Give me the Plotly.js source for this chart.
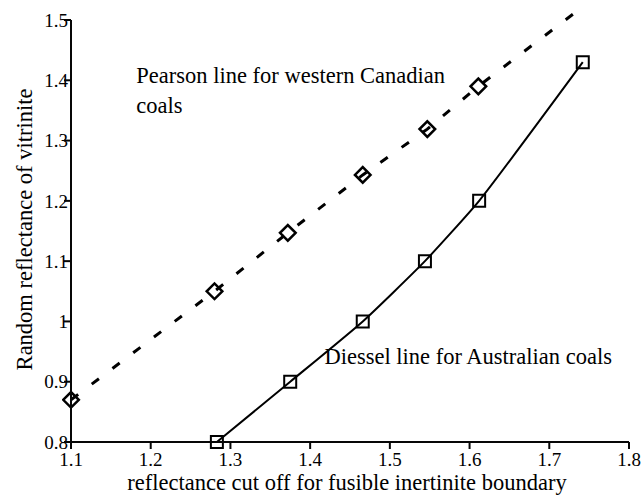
<!DOCTYPE html>
<html>
<head>
<meta charset="utf-8">
<script src="https://cdn.plot.ly/plotly-3.0.1.min.js"></script>
<style>html,body{margin:0;padding:0;background:#fff;}#chart{width:641px;height:504px;}</style>
</head>
<body>
<div id="chart"></div>
<script>
// Pearson line for western Canadian coals (marked points)
var pearsonX = [1.10, 1.280, 1.372, 1.466, 1.547, 1.611];
var pearsonY = [0.87, 1.050, 1.147, 1.243, 1.319, 1.390];
// where the dashed Pearson line ends (no marker)
var pearsonEndX = [1.735];
var pearsonEndY = [1.515];

// Diessel line for Australian coals
var diesselX = [1.283, 1.375, 1.466, 1.544, 1.612, 1.742];
var diesselY = [0.80, 0.90, 1.00, 1.10, 1.20, 1.43];

var xTicks = [1.1, 1.2, 1.3, 1.4, 1.5, 1.6, 1.7, 1.8];
var yTicks = [0.8, 0.9, 1.0, 1.1, 1.2, 1.3, 1.4, 1.5];

var xTitle = 'reflectance cut off for fusible inertinite boundary';
var yTitle = 'Random reflectance of vitrinite';
var pearsonLabel = 'Pearson line for western Canadian<br>coals';
var diesselLabel = 'Diessel line for Australian coals';
var pearsonLabelPos = [1.182, 1.380];
var diesselLabelPos = [1.418, 0.939];

var FONT = '"Liberation Serif", "Times New Roman", serif';
var INK = 'rgb(6,6,6)';

var W = 641, H = 504;
var xMin = 1.1, xMax = 1.8, yMin = 0.8, yMax = 1.5;
var sx = (629 - 71) / (xMax - xMin);   // px per unit
var sy = (442 - 20) / (yMax - yMin);
var mL = 62, mR = 9, mT = 8, mB = 53;  // plot area a little larger than the axes
var xRange = [xMin - (71 - mL) / sx, xMax + (W - mR - 629) / sx];
var yRange = [yMin - (H - mB - 442) / sy, yMax + (20 - mT) / sy];

var traces = [
  {
    x: diesselX, y: diesselY, mode: 'lines+markers', type: 'scatter',
    line: {color: '#000', width: 2, shape: 'spline', smoothing: 0.5},
    marker: {symbol: 'square-open', size: 12, color: '#000', line: {width: 2}},
    showlegend: false, name: 'Diessel'
  },
  {
    x: pearsonX.concat(pearsonEndX), y: pearsonY.concat(pearsonEndY), mode: 'lines', type: 'scatter',
    line: {color: '#000', width: 3, dash: '9px,17px'},
    showlegend: false, hoverinfo: 'skip'
  },
  {
    x: pearsonX, y: pearsonY, mode: 'markers', type: 'scatter',
    marker: {symbol: 'diamond-open', size: 12, color: '#000', line: {width: 2.5}},
    showlegend: false, name: 'Pearson'
  },
  {
    x: [pearsonLabelPos[0]], y: [pearsonLabelPos[1]], mode: 'text', type: 'scatter',
    text: [pearsonLabel], textposition: 'middle right',
    textfont: {family: FONT, size: 22.5, color: '#000'}, showlegend: false, hoverinfo: 'skip'
  },
  {
    x: [diesselLabelPos[0]], y: [diesselLabelPos[1]], mode: 'text', type: 'scatter',
    text: [diesselLabel], textposition: 'middle right',
    textfont: {family: FONT, size: 22.5, color: '#000'}, showlegend: false, hoverinfo: 'skip'
  }
];

// axis lines and tick marks, placed through the axes' own scales
var shapes = [
  {type: 'line', xref: 'x', yref: 'y', x0: xMin - 1 / sx, x1: xMax, y0: yMin, y1: yMin, line: {color: INK, width: 2}},
  {type: 'line', xref: 'x', yref: 'y', x0: xMin, x1: xMin, y0: yMin - 1 / sy, y1: yMax, line: {color: INK, width: 2}}
];
xTicks.forEach(function(v){
  shapes.push({type: 'line', xref: 'x', yref: 'y', x0: v, x1: v,
    ysizemode: 'pixel', yanchor: yMin, y0: 0, y1: -7, line: {color: INK, width: 2}});
});
yTicks.forEach(function(v){
  shapes.push({type: 'line', xref: 'x', yref: 'y', y0: v, y1: v,
    xsizemode: 'pixel', xanchor: xMin, x0: -7, x1: 0, line: {color: INK, width: 2}});
});

var layout = {
  width: W, height: H,
  margin: {l: mL, r: mR, t: mT, b: mB},
  showlegend: false,
  xaxis: {
    range: xRange, dtick: 0.1, ticks: '', ticklabelstandoff: -5,
    showline: false, showgrid: false, zeroline: false,
    tickfont: {family: FONT, size: 19, color: '#000'},
    title: {text: xTitle, font: {family: FONT, size: 22.5, color: '#000'}, standoff: 4}
  },
  yaxis: {
    range: yRange, dtick: 0.1, ticks: '', ticklabelstandoff: -7,
    showline: false, showgrid: false, zeroline: false,
    tickfont: {family: FONT, size: 19, color: '#000'},
    title: {text: yTitle, font: {family: FONT, size: 22.5, color: '#000'}, standoff: 5}
  },
  shapes: shapes
};

Plotly.newPlot('chart', traces, layout, {displayModeBar: false});
</script>
</body>
</html>
